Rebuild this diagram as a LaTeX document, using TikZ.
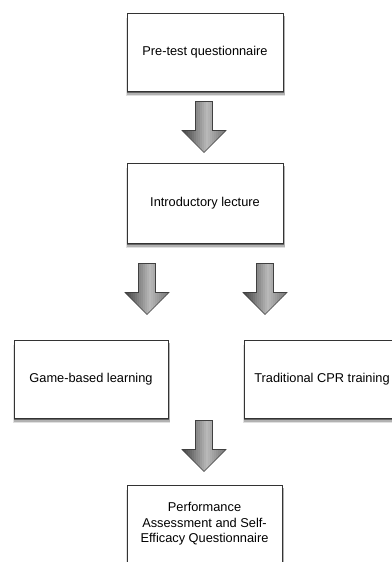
\documentclass[tikz,border=0pt]{standalone}
\usepackage{fontspec}
\setmainfont{Liberation Sans}
\usetikzlibrary{backgrounds}

\tikzset{
    every node/.style={font=\fontsize{12.8}{15.5}\selectfont},
    stage/.style={draw=black!80, fill=white, line width=0.8pt,
        minimum width=156pt, minimum height=78pt, inner sep=2pt, align=center},
    arrowrim/.style={draw=black!75, line width=0.6pt, line join=miter}
}
% outline of a block arrow around its centre
\def\arrowpath{(-8.5,-25.5) -- (8.5,-25.5) -- (8.5,3.5) -- (22,3.5) -- (0,25.5)
    -- (-22,3.5) -- (-8.5,3.5) -- cycle}
% block arrow: name, x, y
\newcommand{\blockarrow}[3]{%
    \coordinate (#1) at (#2,#3);
    \begin{scope}[shift={(#1)}]
        \begin{scope}
            \clip \arrowpath;
            \foreach \s in {-22,-20,...,20} {
                \pgfmathtruncatemacro\tint{\s+1<3 ? 75-47*(\s+23)/25 : 28+27*(\s-2)/19}
                \fill[black!\tint] (\s,-26) rectangle (\s+2.3,26);
            }
        \end{scope}
        \draw[arrowrim] \arrowpath;
    \end{scope}}

\begin{document}
\begin{tikzpicture}[x=1pt,y=-1pt]
        % Define dimensions
        \def\pagew{391}
        \def\pageh{562}
        \def\midx{205}
        \useasboundingbox (0,0) rectangle (\pagew,\pageh);
        % Study stages
        \node[stage] (pretest) at (\midx,52) {Pre-test questionnaire};
        \node[stage, minimum height=80pt] (lecture) at (\midx,203) {Introductory lecture};
        \node[stage, minimum width=154pt] (game) at (91,379) {Game-based learning};
        \node[stage] (cpr) at (322,379) {Traditional CPR training};
        \node[stage, minimum width=155pt] (assess) at (204.5,524)
            {Performance\\Assessment and Self-\\Efficacy Questionnaire};
        % Soft shadows under the stages
        \begin{scope}[on background layer]
            \foreach \b in {pretest,lecture,game,cpr,assess} {
                \fill[black!12] ([xshift=-0.5pt,yshift=-5pt]\b.south west)
                    rectangle ([xshift=2pt,yshift=-5pt]\b.north east);
                \fill[black!30] ([xshift=0pt,yshift=-3.5pt]\b.south west)
                    rectangle ([xshift=1.5pt,yshift=-3.5pt]\b.north east);
                \fill[black!60] ([xshift=0.3pt,yshift=-2pt]\b.south west)
                    rectangle ([xshift=1pt,yshift=-2pt]\b.north east);
            }
        \end{scope}
        % Block arrows between the stages
        \blockarrow{arrowA}{204}{127}
        \foreach \x/\n in {147/B,265/C} {
            \blockarrow{arrow\n}{\x}{289}
        }
        \blockarrow{arrowD}{204}{446}
    \end{tikzpicture}
\end{document}
